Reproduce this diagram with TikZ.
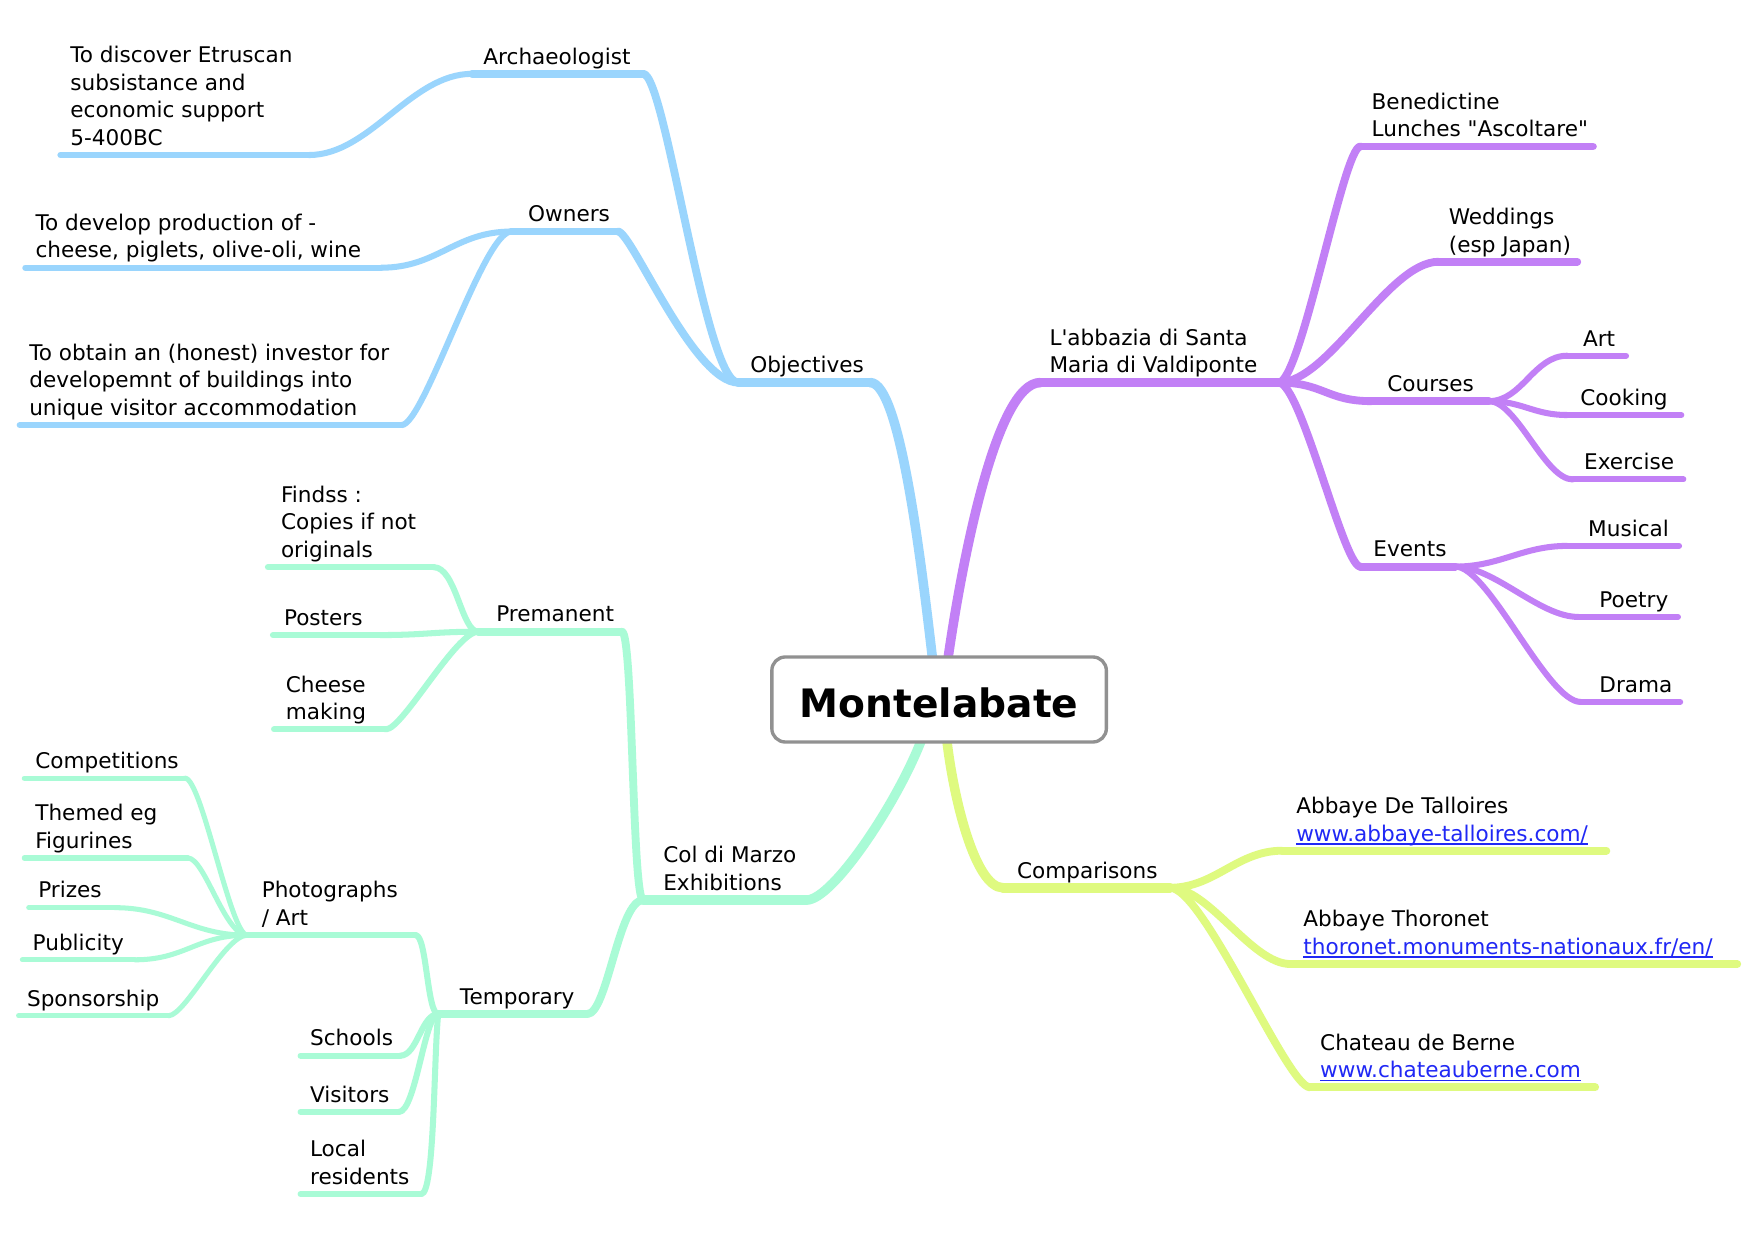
\documentclass[tikz,border=0pt]{standalone}
\usepackage{fontspec}
\setmainfont{DejaVu Sans}
\definecolor{bluC}{RGB}{154,213,253}
\definecolor{purC}{RGB}{194,128,246}
\definecolor{grnC}{RGB}{169,251,214}
\definecolor{yelC}{RGB}{223,250,128}
\definecolor{boxC}{RGB}{145,145,145}
\definecolor{linkC}{RGB}{32,40,245}
\newcommand\nl{\\\strut}
\newcommand\apos{\XeTeXglyph\XeTeXcharglyph"0027\relax}
\newcommand\dquo{\XeTeXglyph\XeTeXcharglyph"0022\relax}
\newcommand\lnk[1]{{\color{linkC}\setbox0\hbox{#1}\rlap{\rule[-3.3pt]{\wd0}{1.5pt}}\box0}}
\newcommand\mmconn[5][]{\draw[#1] (#2) .. controls +(#4) and +(#5) .. (#3);}
\tikzset{
  w1/.style={line width=8.5pt},
  w2/.style={line width=7pt},
  w3/.style={line width=5.4pt},
  w4/.style={line width=4.5pt},
  txt/.style={anchor=south west, inner sep=0pt, align=left, text=black,
    font=\fontsize{19.3}{24.6}\selectfont},
}
\begin{document}
\begin{tikzpicture}[x=1pt,y=-1pt,line cap=round,line join=round]
\fill[white] (0,0) rectangle (1568,1109.4);
\useasboundingbox (0,0) rectangle (1568,1109.4);

% ---------- coordinates ----------
\coordinate (rtB) at (834,592);
\coordinate (rtP) at (847,592);
\coordinate (rtG) at (825,658);
\coordinate (rtY) at (846,658);
% blue
\coordinate (objL) at (660,342);   \coordinate (objR) at (778,342);
\coordinate (archL) at (422,66);   \coordinate (archR) at (575,66);
\coordinate (ownL) at (457,207);   \coordinate (ownR) at (552.5,207);
\coordinate (discL) at (54,138.6); \coordinate (discR) at (276,138.6);
\coordinate (devL) at (22.6,239.3);\coordinate (devR) at (341,239.3);
\coordinate (obtL) at (17.6,380);  \coordinate (obtR) at (359,380);
% purple
\coordinate (abbL) at (930,342);   \coordinate (abbR) at (1143,342);
\coordinate (benL) at (1216,131);  \coordinate (benR) at (1424,131);
\coordinate (wedL) at (1286,234);  \coordinate (wedR) at (1410,234);
\coordinate (couL) at (1226,358.6);\coordinate (couR) at (1331,358.6);
\coordinate (artL) at (1401,318);  \coordinate (artR) at (1453.6,318);
\coordinate (cookL) at (1401,371); \coordinate (cookR) at (1503,371);
\coordinate (exerL) at (1406,428.6);\coordinate (exerR) at (1504.8,428.6);
\coordinate (evtL) at (1216,506.5);\coordinate (evtR) at (1301,506.5);
\coordinate (musL) at (1401,488);  \coordinate (musR) at (1501,488);
\coordinate (poeL) at (1411,551.5);\coordinate (poeR) at (1500,551.5);
\coordinate (draL) at (1413,627.5);\coordinate (draR) at (1502,627.5);
% yellow
\coordinate (cmpL) at (896.6,793.6);\coordinate (cmpR) at (1046,793.6);
\coordinate (talL) at (1146,760.5);\coordinate (talR) at (1436,760.5);
\coordinate (thoL) at (1153.7,861.8);\coordinate (thoR) at (1553,861.8);
\coordinate (berL) at (1171,972);  \coordinate (berR) at (1426,972);
% green
\coordinate (colL) at (575,804.6); \coordinate (colR) at (721,804.6);
\coordinate (preL) at (427.5,564.7);\coordinate (preR) at (556,564.7);
\coordinate (finL) at (239.5,507); \coordinate (finR) at (387.7,507);
\coordinate (posL) at (244,567.7); \coordinate (posR) at (340,567.7);
\coordinate (chL) at (245,652);    \coordinate (chR) at (345,652);
\coordinate (temL) at (391.7,906.5);\coordinate (temR) at (525,906.5);
\coordinate (phoL) at (221,836);   \coordinate (phoR) at (371.6,836);
\coordinate (schL) at (268.7,943.7);\coordinate (schR) at (358,943.7);
\coordinate (visL) at (268.7,994); \coordinate (visR) at (356.6,994);
\coordinate (locL) at (268.7,1067.4);\coordinate (locR) at (376.6,1067.4);
\coordinate (compL) at (21.7,695.6);\coordinate (compR) at (165.4,695.6);
\coordinate (theL) at (21.7,767);  \coordinate (theR) at (168,767);
\coordinate (priL) at (25.7,811.4);\coordinate (priR) at (102.6,811.4);
\coordinate (pubL) at (20,858);    \coordinate (pubR) at (120.6,858);
\coordinate (spoL) at (16.6,908);  \coordinate (spoR) at (150.7,908);

% ---------- blue branch ----------
\begin{scope}[color=bluC]
\draw[w1] (rtB) .. controls +(-10,-85) and +(27,0) .. (objR);
\draw[w1] (objL) -- (objR);
\mmconn[w2]{objL}{archR}{-30,0}{20,0}
\mmconn[w2]{objL}{ownR}{-40,0}{12,0}
\draw[w2] (archL) -- (archR);
\draw[w2] (ownL) -- (ownR);
\mmconn[w3]{archL}{discR}{-55,0}{55,0}
\mmconn[w3]{ownL}{devR}{-50,0}{50,0}
\mmconn[w3]{ownL}{obtR}{-25,0}{20,0}
\draw[w3] (discL) -- (discR);
\draw[w3] (devL) -- (devR);
\draw[w3] (obtL) -- (obtR);
\end{scope}

% ---------- purple branch ----------
\begin{scope}[color=purC]
\draw[w1] (rtP) .. controls +(12,-85) and +(-40,0) .. (abbL);
\draw[w1] (abbL) -- (abbR);
\mmconn[w2]{abbR}{benL}{20,0}{-15,0}
\mmconn[w2]{abbR}{wedL}{45,0}{-45,0}
\mmconn[w2]{abbR}{couL}{40,0}{-40,0}
\mmconn[w2]{abbR}{evtL}{20,0}{-15,0}
\draw[w2] (benL) -- (benR);
\draw[w2] (wedL) -- (wedR);
\draw[w2] (couL) -- (couR);
\draw[w2] (evtL) -- (evtR);
\mmconn[w3]{couR}{artL}{30,0}{-30,0}
\mmconn[w3]{couR}{cookL}{30,0}{-30,0}
\mmconn[w3]{couR}{exerL}{25,0}{-25,0}
\mmconn[w3]{evtR}{musL}{40,0}{-40,0}
\mmconn[w3]{evtR}{poeL}{35,0}{-35,0}
\mmconn[w3]{evtR}{draL}{30,0}{-30,0}
\draw[w3] (artL) -- (artR);
\draw[w3] (cookL) -- (cookR);
\draw[w3] (exerL) -- (exerR);
\draw[w3] (musL) -- (musR);
\draw[w3] (poeL) -- (poeR);
\draw[w3] (draL) -- (draR);
\end{scope}

% ---------- yellow branch ----------
\begin{scope}[color=yelC]
\draw[w1] (rtY) .. controls +(6,55) and +(-25,0) .. (cmpL);
\draw[w1] (cmpL) -- (cmpR);
\mmconn[w2]{cmpR}{talL}{40,0}{-40,0}
\mmconn[w2]{cmpR}{thoL}{35,0}{-35,0}
\mmconn[w2]{cmpR}{berL}{30,0}{-20,0}
\draw[w2] (talL) -- (talR);
\draw[w2] (thoL) -- (thoR);
\draw[w2] (berL) -- (berR);
\end{scope}

% ---------- green branch ----------
\begin{scope}[color=grnC]
\draw[w1] (rtG) .. controls +(-20,55) and +(24,0) .. (colR);
\draw[w1] (colL) -- (colR);
\mmconn[w2]{colL}{preR}{-10,0}{10,0}
\mmconn[w2]{colL}{temR}{-22,0}{18,0}
\draw[w2] (preL) -- (preR);
\draw[w2] (temL) -- (temR);
\mmconn[w3]{preL}{finR}{-15,0}{20,0}
\mmconn[w3]{preL}{posR}{-40,0}{40,0}
\mmconn[w3]{preL}{chR}{-20,0}{15,0}
\mmconn[w3]{temL}{phoR}{-10,0}{10,0}
\mmconn[w3]{temL}{schR}{-15,0}{15,0}
\mmconn[w3]{temL}{visR}{-12,0}{15,0}
\draw[w3] (temL) .. controls +(-4,40) and +(12,0) .. (locR);
\draw[w3] (finL) -- (finR);
\draw[w3] (posL) -- (posR);
\draw[w3] (chL) -- (chR);
\draw[w3] (phoL) -- (phoR);
\draw[w3] (schL) -- (schR);
\draw[w3] (visL) -- (visR);
\draw[w3] (locL) -- (locR);
\mmconn[w4]{phoL}{compR}{-15,0}{15,0}
\mmconn[w4]{phoL}{theR}{-20,0}{15,0}
\mmconn[w4]{phoL}{priR}{-50,0}{50,0}
\mmconn[w4]{phoL}{pubR}{-45,0}{45,0}
\mmconn[w4]{phoL}{spoR}{-20,0}{15,0}
\draw[w4] (compL) -- (compR);
\draw[w4] (theL) -- (theR);
\draw[w4] (priL) -- (priR);
\draw[w4] (pubL) -- (pubR);
\draw[w4] (spoL) -- (spoR);
\end{scope}

% ---------- texts ----------
% blue
\node[txt] (obj) at (670.5,340.9) {\strut Objectives};
\node[txt] (arch) at (432,64.9) {\strut Archaeologist};
\node[txt] (own) at (472,205.9) {\strut Owners};
\node[txt] (disc) at (62.7,137.5) {\strut To discover Etruscan\nl subsistance and\nl economic support\nl 5-400BC};
\node[txt] (dev) at (31.6,238.2) {\strut To develop production of -\nl cheese, piglets, olive-oli, wine};
\node[txt] (obt) at (26,378.9) {\strut To obtain an (honest) investor for\nl developemnt of buildings into\nl unique visitor accommodation};
% purple
\node[txt] (abb) at (938,340.9) {\strut L\apos abbazia di Santa\nl Maria di Valdiponte};
\node[txt] (ben) at (1226,129.9) {\strut Benedictine\nl Lunches \dquo Ascoltare\dquo};
\node[txt] (wed) at (1295,232.9) {\strut Weddings\nl (esp Japan)};
\node[txt] (cou) at (1240,357.5) {\strut Courses};
\node[txt] (art) at (1415,316.9) {\strut Art};
\node[txt] (cook) at (1412.5,369.9) {\strut Cooking};
\node[txt] (exer) at (1416,427.5) {\strut Exercise};
\node[txt] (evt) at (1227.6,505.4) {\strut Events};
\node[txt] (mus) at (1419.6,486.9) {\strut Musical};
\node[txt] (poe) at (1429.6,550.4) {\strut Poetry};
\node[txt] (dra) at (1429.6,626.4) {\strut Drama};
% yellow
\node[txt] (cmp) at (909,792.5) {\strut Comparisons};
\node[txt] (tal) at (1158.6,759.4) {\strut Abbaye De Talloires\nl \lnk{www.abbaye-talloires.com/}};
\node[txt] (tho) at (1165,860.7) {\strut Abbaye Thoronet\nl \lnk{thoronet.monuments-nationaux.fr/en/}};
\node[txt] (ber) at (1180,970.9) {\strut Chateau de Berne\nl \lnk{www.chateauberne.com}};
% green
\node[txt] (col) at (592.8,803.5) {\strut Col di Marzo\nl Exhibitions};
\node[txt] (pre) at (443.5,563.6) {\strut Premanent};
\node[txt] (fin) at (251,505.9) {\strut Findss :\nl Copies if not\nl originals};
\node[txt] (pos) at (253.7,566.6) {\strut Posters};
\node[txt] (che) at (255.4,650.9) {\strut Cheese\nl making};
\node[txt] (tem) at (411,905.4) {\strut Temporary};
\node[txt] (pho) at (233.8,834.9) {\strut Photographs\nl / Art};
\node[txt] (sch) at (277,942.6) {\strut Schools};
\node[txt] (vis) at (277,992.9) {\strut Visitors};
\node[txt] (loc) at (277,1066.3) {\strut Local\nl residents};
\node[txt] (comp) at (31.4,694.5) {\strut Competitions};
\node[txt] (the) at (31.4,765.9) {\strut Themed eg\nl Figurines};
\node[txt] (pri) at (34,810.3) {\strut Prizes};
\node[txt] (pub) at (29,856.9) {\strut Publicity};
\node[txt] (spo) at (24,906.9) {\strut Sponsorship};

% ---------- root ----------
\node[draw=boxC, line width=3pt, rounded corners=12pt, fill=white,
  minimum width=299pt, minimum height=76pt, inner sep=0pt,
  text height=31.4pt, text depth=0pt,
  font=\fontsize{35}{42}\selectfont\bfseries] (root) at (839.5,625.3) {Montelabate};
\end{tikzpicture}
\end{document}
